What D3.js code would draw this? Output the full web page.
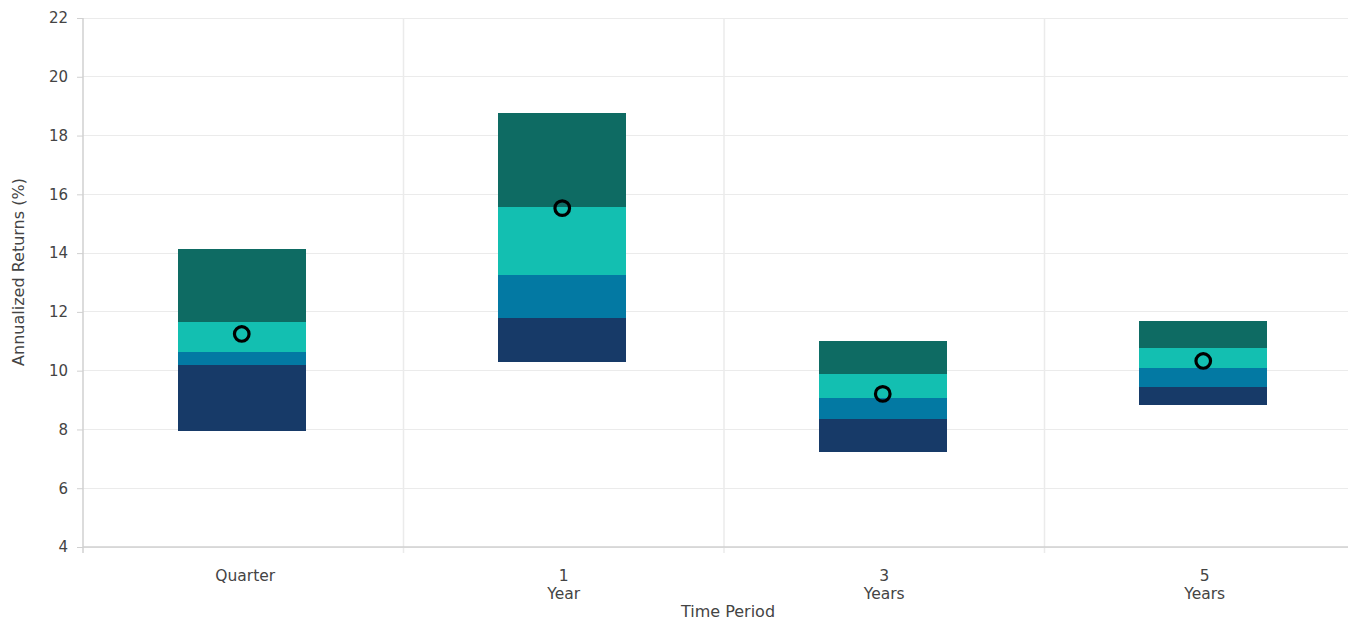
<!DOCTYPE html>
<html><head><meta charset="utf-8">
<script src="https://cdn.jsdelivr.net/npm/d3@7"></script>
<style>
html,body{margin:0;padding:0;background:#fff;overflow:hidden}
text{font-family:"DejaVu Sans",sans-serif;fill:#444}
</style></head>
<body><svg id="c" width="1348" height="620"></svg>
<script>
const categories = ["Quarter", "1\nYear", "3\nYears", "5\nYears"];
// quartile boundaries: bottom (5th), 25th, median band, 75th, top (95th)
const p05 = [7.95, 10.29, 7.23, 8.83];
const p25 = [10.19, 11.79, 8.36, 9.44];
const p50 = [10.64, 13.25, 9.07, 10.09];
const p75 = [11.66, 15.57, 9.89, 10.77];
const p95 = [14.14, 18.77, 11.01, 11.69];
const medianPoint = [11.25, 15.53, 9.21, 10.33];
const yTicks = [4, 6, 8, 10, 12, 14, 16, 18, 20, 22];
const segColors = ["#173a68", "#0379a3", "#13bfb1", "#0e6b63"];

const svg = d3.select("#c");
const x = d3.scaleBand().domain(categories).range([83, 1365]).paddingInner(0).paddingOuter(0);
const y = d3.scaleLinear().domain([4, 22]).range([547, 18]);

// horizontal grid
svg.append("g").selectAll("line").data(yTicks).join("line")
  .attr("x1", 83).attr("x2", 1348).attr("y1", d => y(d)).attr("y2", d => y(d))
  .attr("stroke", "#ebebeb").attr("stroke-width", 1).attr("shape-rendering", "crispEdges");
// vertical grid at band boundaries
const bounds = categories.slice(1).map(c => x(c));
svg.append("g").selectAll("line").data(bounds).join("line")
  .attr("x1", d => d).attr("x2", d => d).attr("y1", 18).attr("y2", 553)
  .attr("stroke", "#ebebeb").attr("stroke-width", 1.5);

// y axis
const yAxis = svg.append("g").attr("transform", "translate(83,0)")
  .call(d3.axisLeft(y).tickValues(yTicks).tickSize(6).tickPadding(9));
yAxis.select(".domain").attr("stroke", "#d0d0d0").attr("stroke-width", 1.5).attr("d", "M0,18V553");
yAxis.selectAll(".tick line").attr("stroke", "#d0d0d0");
yAxis.selectAll(".tick text").attr("font-size", 15).attr("fill", "#444").style("font-family", "DejaVu Sans");

// x axis line
svg.append("line").attr("x1", 83).attr("x2", 1348).attr("y1", 547).attr("y2", 547)
  .attr("stroke", "#d0d0d0").attr("stroke-width", 1.5);

// x labels
const xl = svg.append("g").selectAll("text").data(categories).join("text")
  .attr("x", d => x(d) + x.bandwidth() / 2)
  .attr("y", 581).attr("text-anchor", "middle").attr("font-size", 15.5).attr("fill", "#444");
xl.each(function(d, i) {
  const parts = d.split("\n");
  const t = d3.select(this);
  const cx = x(d) + x.bandwidth() / 2 + (i === 0 ? 2 : 0);
  parts.forEach((p, j) => t.append("tspan").attr("x", cx).attr("dy", j === 0 ? 0 : 18).text(p));
});

// bars
const bw = x.bandwidth() * 0.4;
const off = -1.5;
const segs = [];
categories.forEach((c, i) => {
  const b = [p05[i], p25[i], p50[i], p75[i], p95[i]];
  for (let k = 0; k < 4; k++) segs.push({c, lo: b[k], hi: b[k + 1], k});
});
svg.append("g").selectAll("rect").data(segs).join("rect")
  .attr("x", d => x(d.c) + (x.bandwidth() - bw) / 2 + off)
  .attr("width", bw)
  .attr("y", d => y(d.hi))
  .attr("height", d => y(d.lo) - y(d.hi))
  .attr("fill", d => segColors[d.k])
  .attr("shape-rendering", "crispEdges");

// median markers
svg.append("g").selectAll("circle").data(categories).join("circle")
  .attr("cx", d => x(d) + x.bandwidth() / 2 + off)
  .attr("cy", (d, i) => y(medianPoint[i]))
  .attr("r", 7.3).attr("fill", "none").attr("stroke", "#000").attr("stroke-width", 3.2);

// axis titles
svg.append("text").attr("x", 728).attr("y", 617).attr("text-anchor", "middle")
  .attr("font-size", 16).text("Time Period");
svg.append("text").attr("transform", "translate(24,272) rotate(-90)").attr("text-anchor", "middle")
  .attr("font-size", 16).text("Annualized Returns (%)");
</script></body></html>
